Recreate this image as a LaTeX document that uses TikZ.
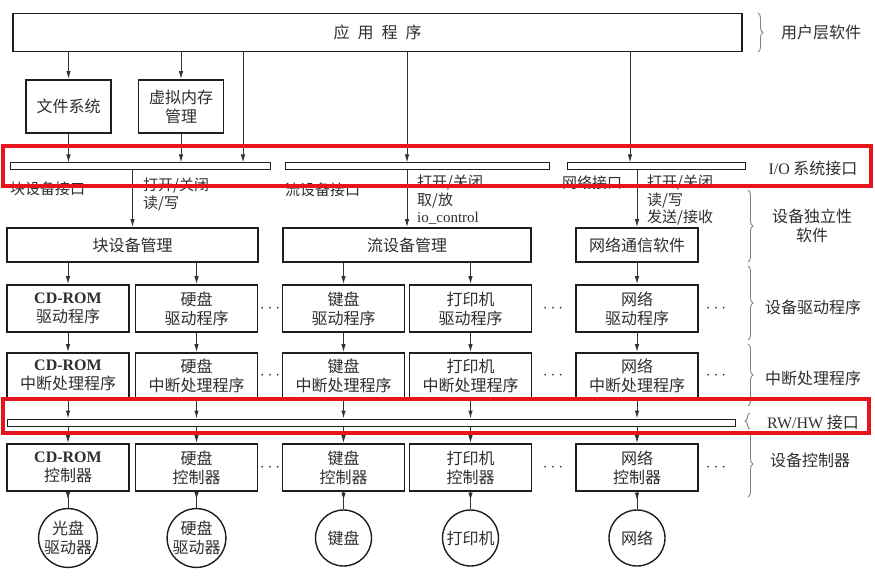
\documentclass[tikz,border=0pt]{standalone}
\usepackage{fontspec}
\setmainfont{Noto Sans CJK SC}
\newfontfamily\lat{Liberation Serif}
\usetikzlibrary{arrows.meta,decorations.pathreplacing,decorations.markings}
\definecolor{ink}{HTML}{1E1E1E}
\definecolor{txt}{HTML}{2E2E2E}
\definecolor{wire}{HTML}{333333}
\definecolor{hilite}{HTML}{E8141C}
\tikzset{
  basebox/.style={draw=ink,line width=1.7pt,fill=white,align=center,inner sep=0pt,text=txt,font=\fontsize{16}{19}\selectfont},
  devbox/.style={basebox,minimum width=122pt,minimum height=47pt},
  mgrbox/.style={basebox,minimum height=34pt},
  bar/.style={draw=ink,line width=1pt,fill=white,inner sep=0pt,minimum height=7pt},
  devcircle/.style={circle,draw=ink,line width=1.4pt,fill=white,minimum size=56pt,inner sep=0pt,align=center,text=txt,font=\fontsize{16}{19}\selectfont},
  arrow/.style={-{Latex[length=8pt,width=4.5pt]},line width=1pt,draw=wire},
  midarrow/.style={line width=1pt,draw=wire,postaction={decorate},
    decoration={markings,mark=at position 0.5 with {\arrow{Latex[length=8pt,width=4.5pt]}}}},
  lbl/.style={font=\fontsize{15}{17.5}\selectfont,text=txt,align=left,inner sep=0pt},
  side/.style={font=\fontsize{16}{19}\selectfont,text=txt,align=center,inner sep=0pt},
  sidebrace/.style={decorate,decoration={brace,amplitude=5pt},draw=gray,line width=0.9pt},
  dots/.style={font=\fontsize{16}{16}\selectfont,text=txt,inner sep=0pt},
  redbox/.style={draw=hilite,line width=4pt}
}

\begin{document}
\begin{tikzpicture}[x=1pt,y=-1pt]
  \useasboundingbox (0,0) rectangle (875,580);

  % user level
  \node[basebox,minimum width=729pt,minimum height=38pt] (app) at (377.5,32.5)
    {应\hspace{.5em}用\hspace{.5em}程\hspace{.5em}序};
  \node[basebox,minimum width=85pt,minimum height=53pt] (fs) at (68.5,106.5) {文件系统};
  \node[basebox,minimum width=85pt,minimum height=53pt] (vm) at (181,106.5) {虚拟内存\\管理};

  % I/O system interface
  \node[bar,minimum width=260pt] (bar1) at (140,166.5) {};
  \node[bar,minimum width=264pt] (bar2) at (417,166.5) {};
  \node[bar,minimum width=178pt] (bar3) at (656,166.5) {};

  \coordinate (t1) at (243,0);
  \coordinate (t2) at (407,0);
  \coordinate (t3) at (630,0);
  \draw[arrow] (app.south -| fs) -- (fs);
  \draw[arrow] (app.south -| vm) -- (vm);
  \draw[arrow] (fs) -- (fs |- bar1.north);
  \draw[arrow] (vm) -- (vm |- bar1.north);
  \draw[arrow] (app.south -| t1) -- (bar1.north -| t1);
  \draw[arrow] (app.south -| t2) -- (bar2.north -| t2);
  \draw[arrow] (app.south -| t3) -- (bar3.north -| t3);

  % device independent software
  \node[mgrbox,minimum width=251pt] (blk) at (132.5,245) {块设备管理};
  \node[mgrbox,minimum width=248pt] (chr) at (407,245) {流设备管理};
  \node[mgrbox,minimum width=122pt] (net) at (637,245) {网络通信软件};
  \draw[arrow] (bar1.south -| blk) -- (blk);
  \draw[arrow] (bar2.south -| chr) -- (chr);
  \draw[arrow] (bar3.south -| net) -- (net);

  \node[lbl,anchor=west] (if-blk) at (10,189) {块设备接口};
  \node[lbl,anchor=north west] (op-blk) at (143,178) {打开/关闭\\读/写};
  \node[lbl,anchor=west] (if-chr) at (285,190) {流设备接口};
  \node[lbl,anchor=north west] (op-chr) at (417,175) {打开/关闭\\取/放\\{\lat io\_control}};
  \node[lbl,anchor=west] (if-net) at (562,183) {网络接口};
  \node[lbl,anchor=north west] (op-net) at (647,175) {打开/关闭\\读/写\\发送/接收};

  % RW/HW interface
  \node[bar,minimum width=728pt] (rw) at (371,422.5) {};

  % drivers, interrupt handlers, controllers, devices
  \foreach \id/\x/\nm/\dv/\mg in {
      cd/68/{{\lat\bfseries CD-ROM}}/{光盘\\驱动器}/blk,
      hd/196.5/硬盘/{硬盘\\驱动器}/blk,
      kb/343.5/键盘/键盘/chr,
      pr/470.5/打印机/打印机/chr,
      nw/637/网络/网络/net} {
    \node[devbox] (drv-\id) at (\x,308.5) {\nm\\驱动程序};
    \node[devbox,minimum height=45pt] (irq-\id) at (\x,375.5) {\nm\\中断处理程序};
    \node[devbox] (ctl-\id) at (\x,467.5) {\nm\\控制器};
    \node[devcircle] (dev-\id) at (\x,538) {\dv};
    \draw[arrow] (\mg.south -| drv-\id) -- (drv-\id);
    \draw[arrow] (drv-\id) -- (irq-\id);
    \draw[arrow] (irq-\id) -- (irq-\id |- rw.north);
    \draw[arrow] (rw.south -| ctl-\id) -- (ctl-\id);
    \draw[midarrow] (ctl-\id) -- (dev-\id);
  }

  \foreach \r/\y in {drv/308.5,irq/375.5,ctl/467.5}
    \foreach \c/\x in {a/270,b/553,c/716}
      \node[dots] (dot-\r-\c) at (\x,\y) {$\cdots$};

  % layer names
  \draw[sidebrace] (758,13) -- (758,52);
  \node[side] (s-user) at (821,32) {用户层软件};
  \node[side] (s-io) at (813,168) {{\lat I/O} 系统接口};
  \draw[sidebrace] (748,190) -- (748,262);
  \node[side] (s-ind) at (812,226) {设备独立性\\软件};
  \draw[sidebrace] (748,266) -- (748,340);
  \node[side] (s-drv) at (813,307) {设备驱动程序};
  \draw[sidebrace] (748,344) -- (748,406);
  \node[side] (s-irq) at (813,378) {中断处理程序};
  \draw[sidebrace] (750,429) -- (750,413);
  \node[side] (s-rw) at (813,422) {{\lat RW/HW} 接口};
  \draw[sidebrace] (748,431) -- (748,497);
  \node[side] (s-ctl) at (810,460) {设备控制器};

  % highlights
  \draw[redbox] (3,146) rectangle (871,186);
  \draw[redbox] (3,399) rectangle (869,433);
\end{tikzpicture}
\end{document}
